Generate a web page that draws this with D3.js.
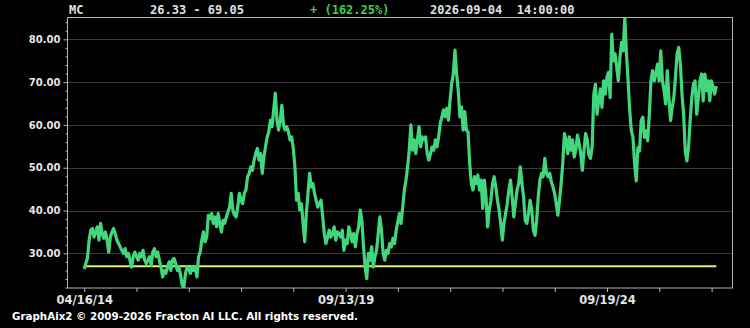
<!DOCTYPE html>
<html>
<head>
<meta charset="utf-8">
<script src="https://cdn.jsdelivr.net/npm/d3@7"></script>
<style>
  html, body { margin: 0; padding: 0; background: #000; }
  svg { display: block; }
</style>
</head>
<body>
<div id="chart"></div>
<script>
// Header strings shown above the plot.
const headerSymbol = 'MC';
const headerRange = '26.33 - 69.05';
const headerChange = '+ (162.25%)';
const headerStamp = '2026-09-04  14:00:00';
const footerText = 'GraphAix2 \u00A9 2009-2026 Fracton AI LLC. All rights reserved.';

// Axis ticks. X positions are in tick units (one unit per axis tick).
const yTicks = [30, 40, 50, 60, 70, 80];
const yMinorTicks = [22, 24, 26, 28, 32, 34, 36, 38, 42, 44, 46, 48, 52, 54, 56, 58, 62, 64, 66, 68, 72, 74, 76, 78, 82, 84];
const xTickLabels = ['04/16/14', '', '', '', '', '09/13/19', '', '', '', '', '09/19/24', '', ''];
const seriesSpan = [0, 12.09]; // first and last sample, in tick units
const baseline = 27.0;

// Price samples, evenly spaced across seriesSpan.
const prices = [
  26.33, 27.7, 28.9, 33.1, 35.4, 35.8, 33.8, 35.0, 36.2, 33.1, 37.0, 34.6, 33.5, 35.0, 33.1, 30.3, 33.8, 35.0, 35.8, 34.6,
  33.1, 32.3, 31.5, 30.7, 30.0, 31.1, 29.2, 30.0, 28.4, 26.8, 29.2, 30.3, 29.2, 28.4, 30.0, 29.2, 30.7, 28.4, 27.6, 28.4,
  29.2, 27.2, 30.3, 31.1, 29.2, 30.3, 28.4, 26.8, 24.5, 26.0, 25.3, 26.8, 28.0, 26.0, 28.4, 28.8, 27.6, 26.0, 26.8, 24.9,
  22.5, 22.1, 25.3, 26.8, 26.4, 25.3, 26.8, 26.0,
  26.8, 24.5, 29.2, 30.3, 33.1, 35.0, 32.7, 33.8, 38.9, 38.1, 39.3, 37.0, 38.5, 36.2, 39.3, 37.0, 35.0, 37.7, 37.0, 38.5,
  39.7, 40.8, 44.0, 40.1, 38.9, 38.5, 40.8, 44.0, 42.4, 41.6, 44.0, 44.8, 47.9, 48.7, 50.2, 49.4, 51.8, 53.3, 54.5, 51.8,
  53.3, 48.7, 52.5, 54.9, 57.2, 58.4, 61.1, 59.6, 63.5, 67.4, 61.1, 58.8, 61.1, 64.6, 60.0, 58.8, 59.6, 58.4, 56.5, 57.2,
  54.5, 50.2, 42.4, 44.0, 40.1, 41.6, 37.0, 32.7, 39.3, 44.0, 48.7, 45.5, 46.3, 44.0, 42.4, 40.8, 41.6, 42.4, 38.5, 34.6,
  32.3, 33.8, 35.4, 33.8, 34.6, 36.2, 33.1,
  35.0, 34.6, 33.8, 35.4, 30.7, 33.1, 32.3, 36.2, 34.6, 32.7, 34.6, 31.5, 34.6, 36.2, 40.1, 37.7, 31.5, 26.8, 24.1, 30.0,
  28.4, 31.5, 26.8, 29.2, 30.7, 34.6, 38.5, 35.4, 30.0, 28.4, 30.7, 30.0, 32.3, 31.5, 33.5, 32.3, 35.4, 37.3, 39.3, 37.0,
  40.8, 44.8, 47.1, 50.2, 54.1, 60.0, 54.1, 56.5, 53.3, 56.5, 59.6, 54.9, 57.2, 56.5, 57.2, 53.3, 51.8, 53.3, 54.9, 54.1,
  56.5, 54.9, 57.2, 60.4, 61.9, 63.5, 61.9, 63.9, 61.1, 65.8, 69.7, 72.0, 77.5, 72.0, 68.1, 61.9, 64.2, 58.8, 63.1, 58.8,
  58.4, 51.0, 46.3, 44.8, 47.9, 46.3, 48.3, 44.8, 47.1, 40.5, 47.1, 43.2, 36.2, 40.1, 42.4, 46.3, 47.9, 45.5, 42.4, 40.1,
  37.0, 33.1, 37.0, 39.3, 41.6, 44.8, 47.1, 43.2, 38.5, 41.6, 44.8, 46.3, 50.2, 46.3, 43.2, 37.7, 37.0, 39.3, 42.4, 40.1,
  35.4, 34.2, 37.7, 43.2, 47.1, 48.7, 47.9, 52.2, 48.7, 47.9, 48.7, 46.7, 45.5, 44.0, 41.6, 38.9, 42.4, 46.3, 51.0, 58.0,
  56.5, 53.3, 57.2, 54.1, 56.5, 52.5, 54.1, 57.6, 55.7, 53.3, 49.4, 54.1, 58.0, 56.5, 52.9, 52.2, 54.9,
  67.2, 69.5, 62.5, 65.6, 68.4, 64.1, 70.3, 67.2, 71.1, 72.3, 66.4, 81.2, 75.0, 76.6, 73.5, 70.3, 75.8, 79.3, 77.3, 85.1,
  76.6, 70.3, 63.3, 58.6, 57.1, 50.8, 46.9, 54.7, 53.9, 61.0, 61.8, 57.1, 58.6, 56.3, 62.5, 70.3, 72.7, 70.3, 71.9, 74.2,
  70.3, 77.3, 70.3, 68.0, 64.9, 72.7, 66.4, 61.0, 64.1, 66.4, 71.1, 76.6, 78.1, 74.2, 67.2, 62.5, 53.9, 51.6, 54.7, 61.0,
  66.4, 69.5, 70.3, 62.5, 66.4, 70.3, 71.9, 65.6, 71.9, 68.0, 70.3, 65.6, 70.3, 68.8, 67.2, 69.05
];

(function(){
  const width = 750, height = 328;
  const plotBox = {left: 67.5, top: 17.5, right: 732.5, bottom: 288};

  const svg = d3.select('#chart').append('svg')
    .attr('width', width).attr('height', height)
    .style('background', '#000');

  const x = d3.scaleLinear().domain([-0.32, 12.4]).range([plotBox.left, plotBox.right]);
  const y = d3.scaleLinear().domain([21.9, 85.1]).range([plotBox.bottom, plotBox.top]);

  const step = (seriesSpan[1] - seriesSpan[0]) / (prices.length - 1);
  const points = prices.map((v, i) => ({t: seriesSpan[0] + i * step, v}));

  // Horizontal grid at the labelled values.
  svg.append('g').selectAll('line').data(yTicks).join('line')
    .attr('x1', plotBox.left).attr('x2', plotBox.right)
    .attr('y1', d => Math.round(y(d)) + 0.5).attr('y2', d => Math.round(y(d)) + 0.5)
    .attr('stroke', '#3a3a3a').attr('stroke-width', 1);

  // Minor y ticks (no labels).
  svg.append('g')
    .attr('transform', `translate(${plotBox.left},0)`)
    .call(d3.axisLeft(y).tickValues(yMinorTicks).tickSize(2).tickFormat(''))
    .call(g => g.select('.domain').remove())
    .call(g => g.selectAll('line').attr('stroke', '#b8b8b8'));

  // Major y ticks with labels.
  svg.append('g')
    .attr('transform', `translate(${plotBox.left},0)`)
    .call(d3.axisLeft(y).tickValues(yTicks).tickSize(4).tickPadding(3).tickFormat(d3.format('.2f')))
    .call(g => g.select('.domain').remove())
    .call(g => g.selectAll('line').attr('stroke', '#b8b8b8'))
    .call(g => g.selectAll('text')
      .attr('fill', '#e6e6e6')
      .style('font-family', "'DejaVu Sans', sans-serif")
      .style('font-size', '10px')
      .style('font-weight', 'bold'));

  // X ticks: one per unit, labelled every fifth.
  svg.append('g')
    .attr('transform', `translate(0,${plotBox.bottom})`)
    .call(d3.axisBottom(x).tickValues(d3.range(xTickLabels.length)).tickSize(4).tickPadding(4)
      .tickFormat((d, i) => xTickLabels[i]))
    .call(g => g.select('.domain').remove())
    .call(g => g.selectAll('line').attr('stroke', '#b8b8b8'))
    .call(g => g.selectAll('text')
      .attr('fill', '#e6e6e6')
      .style('font-family', "'DejaVu Sans', sans-serif")
      .style('font-size', '11.5px')
      .style('font-weight', 'bold'));

  // Clip the series to the plot frame.
  svg.append('clipPath').attr('id', 'plot-clip')
    .append('rect')
    .attr('x', plotBox.left).attr('y', plotBox.top)
    .attr('width', plotBox.right - plotBox.left).attr('height', plotBox.bottom - plotBox.top);

  const plot = svg.append('g').attr('clip-path', 'url(#plot-clip)');

  // Reference line at the base price.
  plot.append('line')
    .attr('x1', x(seriesSpan[0])).attr('x2', x(seriesSpan[1]))
    .attr('y1', y(baseline)).attr('y2', y(baseline))
    .attr('stroke', '#e4ee7c').attr('stroke-width', 2);

  const line = d3.line().x(d => x(d.t)).y(d => y(d.v));
  plot.append('path')
    .datum(points)
    .attr('d', line)
    .attr('fill', 'none')
    .attr('stroke', '#42d67d')
    .attr('stroke-width', 3.2)
    .attr('stroke-linejoin', 'round');

  // Plot frame.
  svg.append('rect')
    .attr('x', plotBox.left).attr('y', plotBox.top)
    .attr('width', plotBox.right - plotBox.left).attr('height', plotBox.bottom - plotBox.top)
    .attr('fill', 'none').attr('stroke', '#b4b4b4').attr('stroke-width', 1);

  // Header line.
  const header = svg.append('g')
    .style('font-family', "'DejaVu Sans Mono', monospace")
    .style('font-size', '12px')
    .style('font-weight', 'bold')
    .style('white-space', 'pre');
  const headerItems = [
    {text: headerSymbol, x: 69, fill: '#e0e0e0'},
    {text: headerRange, x: 150, fill: '#e0e0e0'},
    {text: headerChange, x: 310, fill: '#3ed04a'},
    {text: headerStamp, x: 430, fill: '#e0e0e0'}
  ];
  header.selectAll('text').data(headerItems).join('text')
    .attr('x', d => d.x).attr('y', 13.5)
    .attr('fill', d => d.fill)
    .attr('xml:space', 'preserve')
    .text(d => d.text);

  // Footer notice.
  svg.append('text')
    .attr('x', 12).attr('y', 319.5)
    .attr('fill', '#ffffff')
    .attr('textLength', 346).attr('lengthAdjust', 'spacingAndGlyphs')
    .style('font-family', "'DejaVu Sans', sans-serif")
    .style('font-size', '10.5px')
    .style('font-weight', 'bold')
    .text(footerText);
})();
</script>
</body>
</html>
